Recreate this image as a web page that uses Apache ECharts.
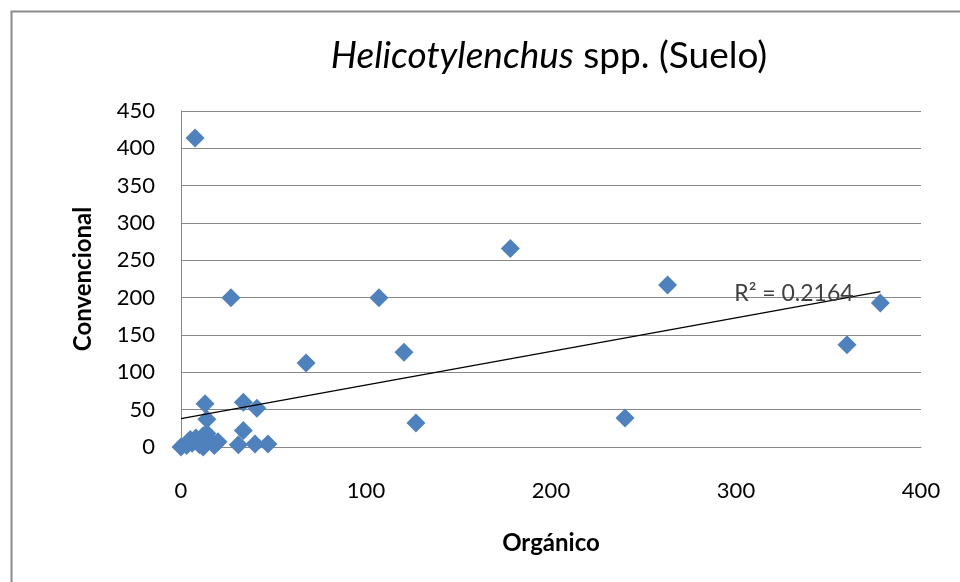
<!DOCTYPE html>
<html>
<head>
<meta charset="utf-8">
<script src="https://cdn.jsdelivr.net/npm/echarts@6/dist/echarts.min.js"></script>
<style>
  html, body { margin: 0; padding: 0; background: #fff; }
  #chart { width: 960px; height: 582px; }
</style>
</head>
<body>
<div id="chart"></div>
<script>
// Orgánico (x) vs Convencional (y)
const organico = [7.6, 27, 107, 178, 263, 378, 360, 240, 127, 120.5, 67.6,
  33.7, 41, 13, 14, 33.7, 31, 40, 47,
  0, 3, 6, 8, 10, 12, 14, 16, 20, 5, 12, 18];
const convencional = [414, 200, 200, 266, 217, 193, 137, 39, 32, 127, 112.5,
  60, 52, 58, 37, 22, 3, 4, 4,
  0, 2, 5, 12, 3, 0, 18, 8, 7, 10, 15, 2];

// linear trend line ends, as drawn in the picture
const trendX = [0, 378];
const trendY = [38, 208];
const r2Text = 'R² = 0.2164';

const yTicks = [0, 50, 100, 150, 200, 250, 300, 350, 400, 450];
const xTicks = [0, 100, 200, 300, 400];

const font = 'Lato, "Open Sans", sans-serif';
const points = organico.map((x, i) => [x, convencional[i]]);
const trend = trendX.map((x, i) => [x, trendY[i]]);

const chart = echarts.init(document.getElementById('chart'));
chart.setOption({
  animation: false,
  title: {
    text: '{i|Helicotylenchus} spp. (Suelo)',
    left: 544, top: 33, textAlign: 'center',
    textStyle: {
      fontFamily: font, fontSize: 37, fontWeight: 'normal', color: '#000',
      rich: { i: { fontFamily: font, fontSize: 37, fontStyle: 'italic', color: '#000' } }
    }
  },
  graphic: [{
    type: 'rect', left: 9, top: 9,
    shape: { width: 1000, height: 1000 },
    style: { fill: 'none', stroke: '#8a8a8a', lineWidth: 2 }
  }],
  grid: { left: 181, right: 39, top: 111, bottom: 135 },
  xAxis: {
    type: 'value', min: 0, max: 400, interval: 100,
    name: 'Orgánico', nameLocation: 'middle', nameGap: 84,
    nameTextStyle: { fontFamily: font, fontSize: 24, fontWeight: 'bold', color: '#000' },
    axisLine: { lineStyle: { color: '#888' } },
    axisTick: { show: false },
    splitLine: { show: false },
    axisLabel: {
      margin: 33, fontFamily: font, fontSize: 22, color: '#000',
      formatter: v => xTicks.includes(v) ? String(v) : ''
    }
  },
  yAxis: {
    type: 'value', min: 0, max: 450, interval: 50,
    name: 'Convencional', nameLocation: 'middle', nameGap: 86, nameRotate: 90,
    nameTextStyle: { fontFamily: font, fontSize: 24, fontWeight: 'bold', color: '#000' },
    axisLine: { show: true, lineStyle: { color: '#888' } },
    axisTick: { show: false },
    splitLine: { lineStyle: { color: '#888', width: 1 } },
    axisLabel: {
      margin: 26, fontFamily: font, fontSize: 22, color: '#000',
      formatter: v => yTicks.includes(v) ? String(v) : ''
    }
  },
  series: [{
    type: 'scatter',
    data: points,
    symbol: 'diamond',
    symbolSize: 19,
    itemStyle: { color: '#4F81BD', opacity: 1 },
    z: 3
  }, {
    type: 'line',
    data: trend,
    symbol: 'none',
    lineStyle: { color: '#000', width: 1.3 },
    z: 4,
    endLabel: {
      show: true, formatter: r2Text, offset: [-154, 2],
      fontFamily: font, fontSize: 23, color: '#404040'
    }
  }]
});
</script>
</body>
</html>
